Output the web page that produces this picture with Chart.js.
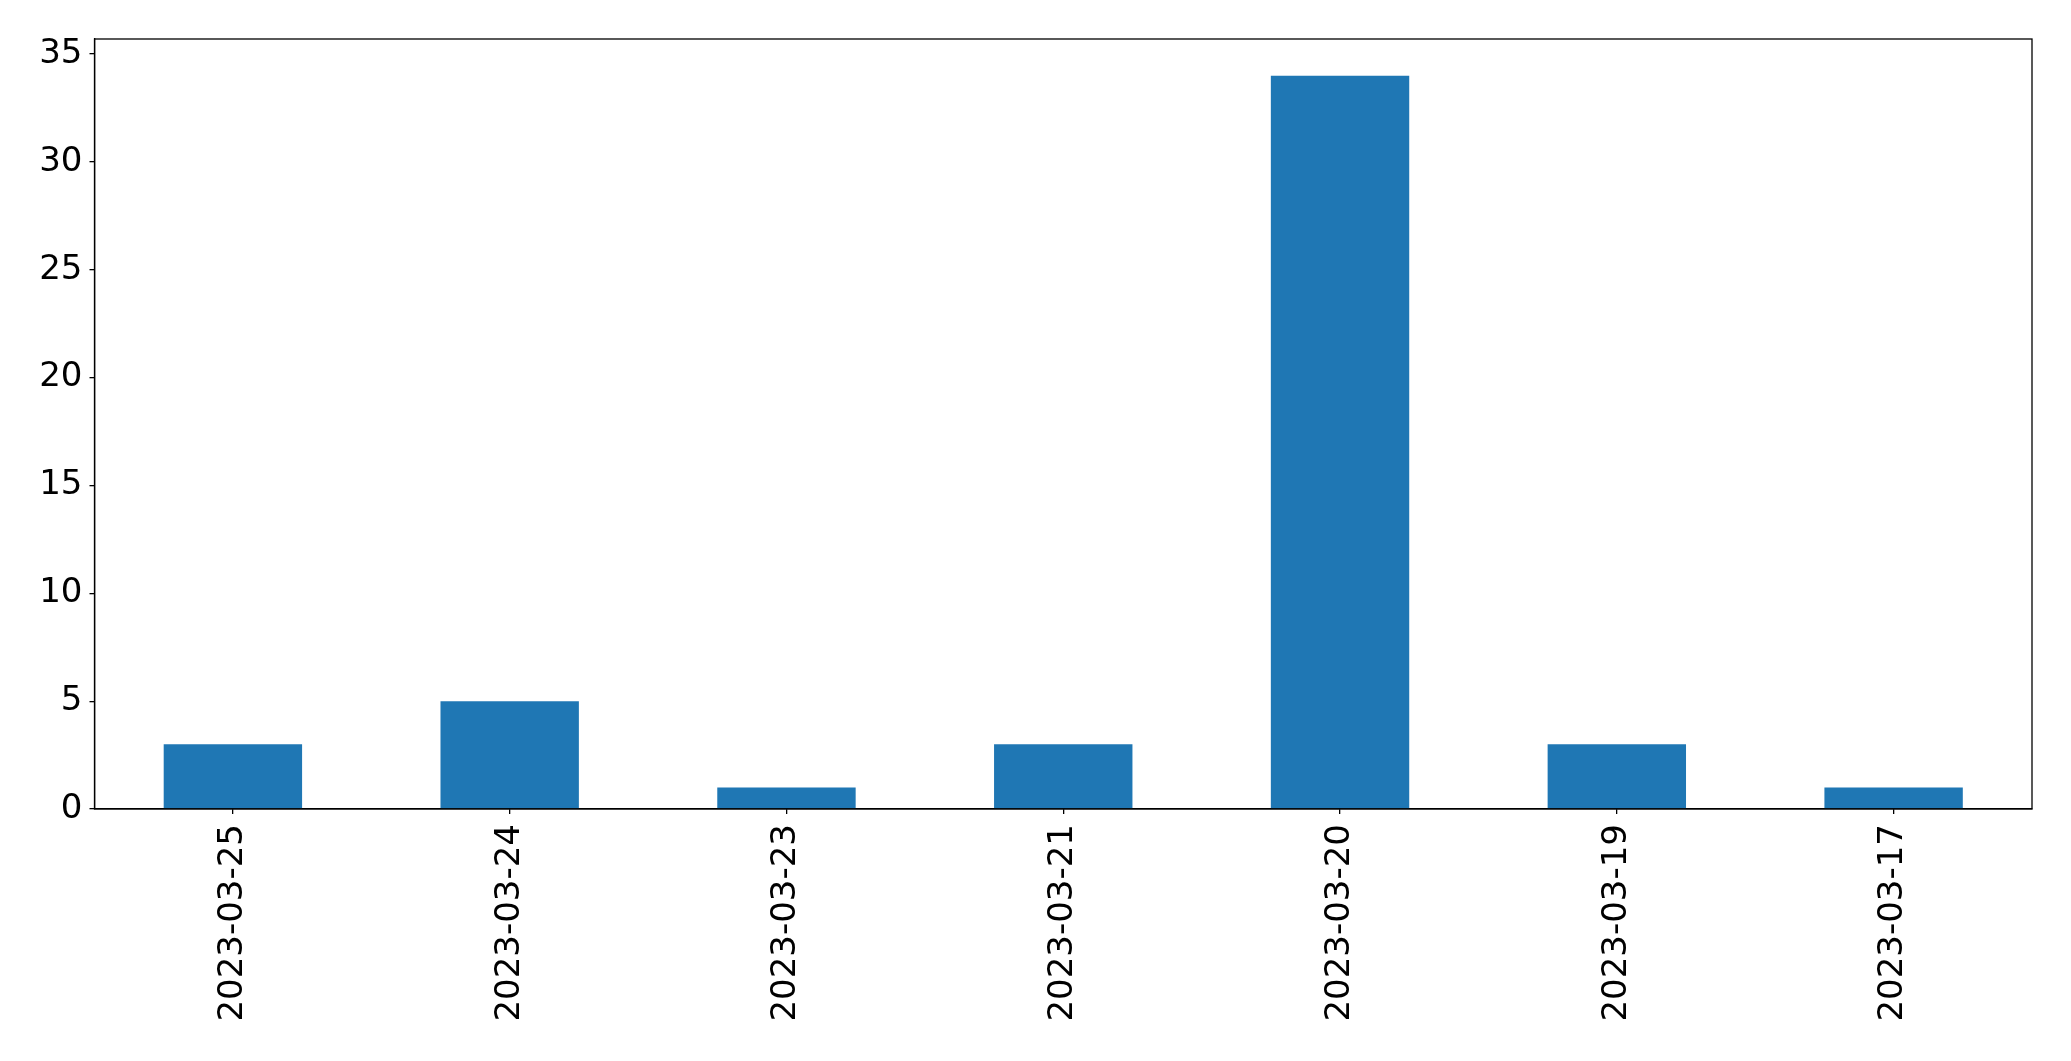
<!DOCTYPE html>
<html>
<head>
<meta charset="utf-8">
<script src="https://cdn.jsdelivr.net/npm/chart.js@4/dist/chart.umd.min.js"></script>
<style>
  html, body { margin: 0; padding: 0; background: #fff; }
  #wrap { width: 2071px; height: 1061px; }
</style>
</head>
<body>
<div id="wrap"><canvas id="my-chart" width="2071" height="1061"></canvas></div>
<script>
// dati
const dates = ['2023-03-25', '2023-03-24', '2023-03-23', '2023-03-21', '2023-03-20', '2023-03-19', '2023-03-17'];
const counts = [3, 5, 1, 3, 34, 3, 1];
const yTicks = [0, 5, 10, 15, 20, 25, 30, 35];

const ctx = document.getElementById('my-chart');

/* cornice intorno all'area del grafico */
const frame = {
    id: 'frame',
    afterDatasetsDraw(chart) {
        const a = chart.chartArea;
        const c = chart.ctx;
        c.save();
        c.strokeStyle = '#000';
        c.lineWidth = 1.3;
        c.strokeRect(a.left, a.top, a.right - a.left, a.bottom - a.top);
        c.restore();
    }
};

const font = { family: 'DejaVu Sans', size: 34 };

const config = {
    type: 'bar',
    data: {
        labels: dates,
        datasets: [{
            data: counts,
            backgroundColor: '#1f77b4',
            borderWidth: 0,
            categoryPercentage: 1,
            barPercentage: 0.5
        }]
    },
    options: {
        responsive: false,
        animation: false,
        layout: { padding: { top: 39, right: 39, left: 0, bottom: 0 } },
        plugins: {
            legend: { display: false },
            tooltip: { enabled: false }
        },
        scales: {
            x: {
                offset: true,
                grid: { offset: false, drawOnChartArea: false, drawTicks: true, tickLength: 5, color: '#000', lineWidth: 1.3 },
                border: { display: true, color: '#000', width: 1.3 },
                ticks: { color: '#000', font: font, minRotation: 90, maxRotation: 90, padding: 10, autoSkip: false },
                afterFit(scale) { scale.height = 252; }
            },
            y: {
                min: 0,
                max: 35.7,
                afterBuildTicks(scale) { scale.ticks = yTicks.map(v => ({ value: v })); },
                grid: { drawOnChartArea: false, drawTicks: true, tickLength: 5, color: '#000', lineWidth: 1.3 },
                border: { display: true, color: '#000', width: 1.3 },
                ticks: { color: '#000', font: font, padding: 7 },
                afterFit(scale) { scale.width = 94.5; }
            }
        }
    },
    plugins: [frame]
};

const myChart = new Chart(ctx, config);
</script>
</body>
</html>
